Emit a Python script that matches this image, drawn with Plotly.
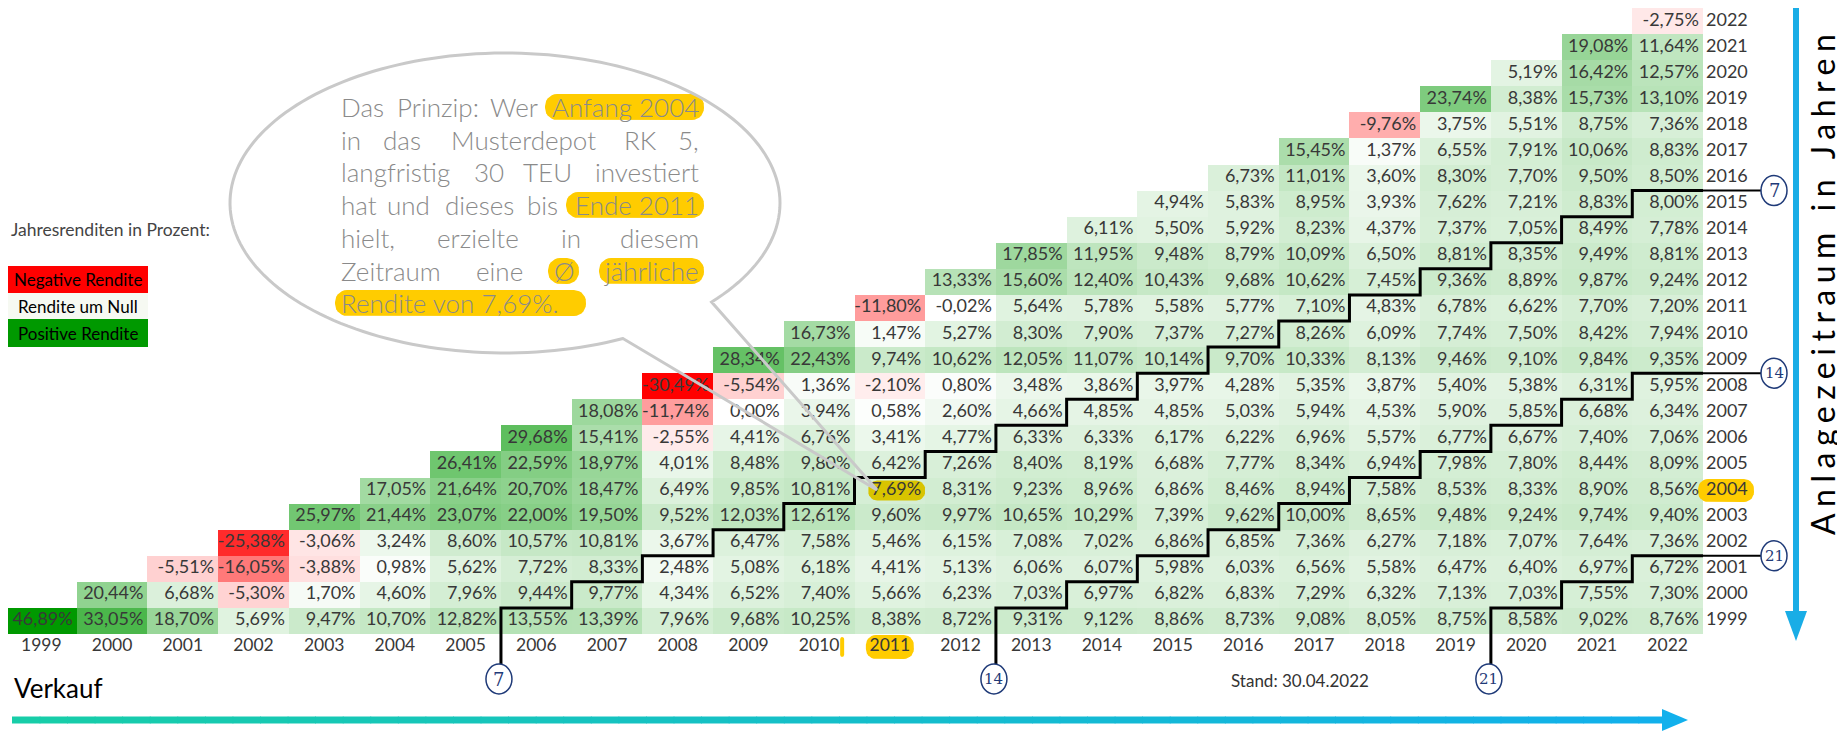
import numpy as np
import plotly.graph_objects as go

years = list(range(1999, 2023))
year_labels = [str(y) for y in years]

# Average annual return (%) for each start year (row); entries for sale years start..2022
start_1999 = [46.89, 33.05, 18.70, 5.69, 9.47, 10.70, 12.82, 13.55, 13.39, 7.96, 9.68, 10.25, 8.38, 8.72, 9.31, 9.12, 8.86, 8.73, 9.08, 8.05, 8.75, 8.58, 9.02, 8.76]
start_2000 = [20.44, 6.68, -5.30, 1.70, 4.60, 7.96, 9.44, 9.77, 4.34, 6.52, 7.40, 5.66, 6.23, 7.03, 6.97, 6.82, 6.83, 7.29, 6.32, 7.13, 7.03, 7.55, 7.30]
start_2001 = [-5.51, -16.05, -3.88, 0.98, 5.62, 7.72, 8.33, 2.48, 5.08, 6.18, 4.41, 5.13, 6.06, 6.07, 5.98, 6.03, 6.56, 5.58, 6.47, 6.40, 6.97, 6.72]
start_2002 = [-25.38, -3.06, 3.24, 8.60, 10.57, 10.81, 3.67, 6.47, 7.58, 5.46, 6.15, 7.08, 7.02, 6.86, 6.85, 7.36, 6.27, 7.18, 7.07, 7.64, 7.36]
start_2003 = [25.97, 21.44, 23.07, 22.00, 19.50, 9.52, 12.03, 12.61, 9.60, 9.97, 10.65, 10.29, 7.39, 9.62, 10.00, 8.65, 9.48, 9.24, 9.74, 9.40]
start_2004 = [17.05, 21.64, 20.70, 18.47, 6.49, 9.85, 10.81, 7.69, 8.31, 9.23, 8.96, 6.86, 8.46, 8.94, 7.58, 8.53, 8.33, 8.90, 8.56]
start_2005 = [26.41, 22.59, 18.97, 4.01, 8.48, 9.80, 6.42, 7.26, 8.40, 8.19, 6.68, 7.77, 8.34, 6.94, 7.98, 7.80, 8.44, 8.09]
start_2006 = [29.68, 15.41, -2.55, 4.41, 6.76, 3.41, 4.77, 6.33, 6.33, 6.17, 6.22, 6.96, 5.57, 6.77, 6.67, 7.40, 7.06]
start_2007 = [18.08, -11.74, 0.00, 3.94, 0.58, 2.60, 4.66, 4.85, 4.85, 5.03, 5.94, 4.53, 5.90, 5.85, 6.68, 6.34]
start_2008 = [-30.49, -5.54, 1.36, -2.10, 0.80, 3.48, 3.86, 3.97, 4.28, 5.35, 3.87, 5.40, 5.38, 6.31, 5.95]
start_2009 = [28.34, 22.43, 9.74, 10.62, 12.05, 11.07, 10.14, 9.70, 10.33, 8.13, 9.46, 9.10, 9.84, 9.35]
start_2010 = [16.73, 1.47, 5.27, 8.30, 7.90, 7.37, 7.27, 8.26, 6.09, 7.74, 7.50, 8.42, 7.94]
start_2011 = [-11.80, -0.02, 5.64, 5.78, 5.58, 5.77, 7.10, 4.83, 6.78, 6.62, 7.70, 7.20]
start_2012 = [13.33, 15.60, 12.40, 10.43, 9.68, 10.62, 7.45, 9.36, 8.89, 9.87, 9.24]
start_2013 = [17.85, 11.95, 9.48, 8.79, 10.09, 6.50, 8.81, 8.35, 9.49, 8.81]
start_2014 = [6.11, 5.50, 5.92, 8.23, 4.37, 7.37, 7.05, 8.49, 7.78]
start_2015 = [4.94, 5.83, 8.95, 3.93, 7.62, 7.21, 8.83, 8.00]
start_2016 = [6.73, 11.01, 3.60, 8.30, 7.70, 9.50, 8.50]
start_2017 = [15.45, 1.37, 6.55, 7.91, 10.06, 8.83]
start_2018 = [-9.76, 3.75, 5.51, 8.75, 7.36]
start_2019 = [23.74, 8.38, 15.73, 13.10]
start_2020 = [5.19, 16.42, 12.57]
start_2021 = [19.08, 11.64]
start_2022 = [-2.75]

rows = [start_1999, start_2000, start_2001, start_2002, start_2003, start_2004, start_2005,
        start_2006, start_2007, start_2008, start_2009, start_2010, start_2011, start_2012,
        start_2013, start_2014, start_2015, start_2016, start_2017, start_2018, start_2019,
        start_2020, start_2021, start_2022]

holding_marks = [7, 14, 21]
highlight_start, highlight_end = 2004, 2011

# ---------- geometry (screen pixels; page body has an 8px margin) ----------
OFF = 8
W, H = 1845 - OFF, 734 - OFF
GL, GR, GT, GB = 6, 1703, 8, 634
CW = (GR - GL) / 24.0
RH = (GB - GT) / 24.0

def X(px):
    return 1998.5 + (px - GL) / CW

def Y(py):
    return 2022.5 - (py - GT) / RH

def PX(x):
    return GL + (x - 1998.5) * CW

def PY(y):
    return GT + (2022.5 - y) * RH

# ---------- matrix ----------
n = len(years)
z = [[None] * n for _ in range(n)]
txt_x, txt_y, txt = [], [], []
for i, row in enumerate(rows):
    for j, v in enumerate(row):
        col = i + j
        z[i][col] = v
        txt_x.append(years[col] + 0.5 - 4 / CW)
        txt_y.append(years[i])
        txt.append(f"{v:.2f}".replace(".", ",") + "%")

allv = [v for r in rows for v in r]
zmin, zmax = min(allv), max(allv)
mid = (0 - zmin) / (zmax - zmin)
colorscale = [[0, "rgb(255,0,0)"], [mid, "rgb(255,255,255)"], [1, "rgb(0,153,0)"]]

fig = go.Figure()
fig.add_trace(go.Heatmap(x=years, y=years, z=z, colorscale=colorscale, zmin=zmin, zmax=zmax,
                         showscale=False, hoverinfo="skip", xgap=0, ygap=0))

def rr_points(x0, y0, x1, y1, r, nseg=8):
    pts = []
    corners = [(x1 - r, y0 + r, -90, 0), (x1 - r, y1 - r, 0, 90), (x0 + r, y1 - r, 90, 180), (x0 + r, y0 + r, 180, 270)]
    for cx, cy, a0, a1 in corners:
        for a in np.linspace(np.radians(a0), np.radians(a1), nseg):
            pts.append((cx + r * np.cos(a), cy + r * np.sin(a)))
    pts.append(pts[0])
    return [X(p[0]) for p in pts], [Y(p[1]) for p in pts]

def add_highlight(x0, y0, x1, y1, color, r=9):
    xs, ys = rr_points(x0, y0, x1, y1, r)
    fig.add_trace(go.Scatter(x=xs, y=ys, mode="lines", fill="toself", fillcolor=color,
                             line=dict(width=0, color=color), hoverinfo="skip", showlegend=False))

GOLD = "#ffcc00"
# highlighted cell 7.69% (start 2004, sale 2011)
cell_r = PX(highlight_end + 0.5)
cy_mid = PY(highlight_start)
add_highlight(cell_r - 57, cy_mid - 10, cell_r, cy_mid + 10, "#d8c400", r=9)
# highlighted x label 2011 and row label 2004
xl_py = GB + 13
add_highlight(PX(highlight_end) - 24, xl_py - 12, PX(highlight_end) + 24, xl_py + 12, GOLD, r=10)
add_highlight(1698, PY(highlight_start) - 11.5, 1754, PY(highlight_start) + 11.5, GOLD, r=10)
add_highlight(PX(2010) + 21, xl_py - 10, PX(2010) + 25, xl_py + 10, GOLD, r=2)

# balloon highlights
LINE_Y = [107, 139.5, 172, 205, 238, 271, 303]
add_highlight(545, LINE_Y[0] - 13, 704, LINE_Y[0] + 13, GOLD, r=12)
add_highlight(566, LINE_Y[3] - 13, 704, LINE_Y[3] + 13, GOLD, r=12)
add_highlight(548, LINE_Y[5] - 13, 579, LINE_Y[5] + 13, GOLD, r=12)
add_highlight(599, LINE_Y[5] - 13, 704, LINE_Y[5] + 13, GOLD, r=12)
add_highlight(335, LINE_Y[6] - 13, 586, LINE_Y[6] + 13, GOLD, r=12)

FONT = "Lato"
fig.add_trace(go.Scatter(x=txt_x, y=txt_y, text=txt, mode="text", textposition="middle left",
                         textfont=dict(family=FONT, size=18, color="#383838"),
                         hoverinfo="skip", showlegend=False))
# x labels (sale year)
fig.add_trace(go.Scatter(x=years, y=[Y(xl_py)] * n, text=year_labels, mode="text",
                         textposition="middle center",
                         textfont=dict(family=FONT, size=17.5, color="#383838"),
                         hoverinfo="skip", showlegend=False))
# row labels (start year)
fig.add_trace(go.Scatter(x=[X(1706)] * n, y=years, text=year_labels, mode="text",
                         textposition="middle right",
                         textfont=dict(family=FONT, size=18, color="#383838"),
                         hoverinfo="skip", showlegend=False))

shapes = []
annotations = []

# staircase lines for 7 / 14 / 21 years
NAVY = "#1f3a78"
circ_bottom_py = 679
circ_right_px = 1774
RX, RY = 13, 15
for k in holding_marks:
    pts = [(1998.5 + k, Y(circ_bottom_py - RY))]
    for r in range(1999, 2023 - k):
        pts.append((r - 0.5 + k, r + 0.5))
        pts.append((r + 0.5 + k, r + 0.5))
    path = "M " + " L ".join(f"{a:.5f},{b:.5f}" for a, b in pts)
    shapes.append(dict(type="path", path=path, xref="x", yref="y",
                       line=dict(color="black", width=3), layer="above"))
    ylast = 2022 - k + 0.5
    shapes.append(dict(type="line", xref="x", yref="y", x0=2022.5, x1=X(circ_right_px - RX),
                       y0=ylast, y1=ylast, line=dict(color="black", width=2), layer="above"))
    bx = PX(1998.5 + k) - 2
    for cx, cy in [(bx, circ_bottom_py), (circ_right_px, PY(ylast))]:
        shapes.append(dict(type="circle", xref="x", yref="y", x0=X(cx - RX), x1=X(cx + RX),
                           y0=Y(cy + RY), y1=Y(cy - RY), line=dict(color=NAVY, width=1.5),
                           fillcolor="white", layer="above"))
        annotations.append(dict(x=X(cx), y=Y(cy), xref="x", yref="y", text=str(k), showarrow=False,
                                font=dict(family="DejaVu Serif", size=18 if k < 10 else 15, color=NAVY),
                                xanchor="center", yanchor="middle"))

# speech balloon (ellipse with tail)
ecx, ecy, erx, ery = 505, 203, 275, 150
aL, aR = np.radians(64.6), np.radians(41.3)
tip = (877, 490)
angs = np.linspace(aL, aR + 2 * np.pi, 180)
bpts = [(ecx + erx * np.cos(a), ecy + ery * np.sin(a)) for a in angs] + [tip]
bpath = "M " + " L ".join(f"{X(a):.5f},{Y(b):.5f}" for a, b in bpts) + " Z"
shapes.append(dict(type="path", path=bpath, xref="x", yref="y",
                   line=dict(color="#c9c9c9", width=3), layer="above"))

# horizontal gradient arrow
c0 = np.array([24, 206, 168]); c1 = np.array([18, 176, 236])
hx0, hx1, hy = 12, 1666, 720
nseg = 60
for s in range(nseg):
    t0 = hx0 + (hx1 - hx0) * s / nseg
    t1 = hx0 + (hx1 - hx0) * (s + 1) / nseg + 0.8
    c = c0 + (c1 - c0) * (s + 0.5) / nseg
    shapes.append(dict(type="rect", xref="x", yref="y", x0=X(t0), x1=X(t1), y0=Y(hy + 3.5), y1=Y(hy - 3.5),
                       fillcolor=f"rgb({int(c[0])},{int(c[1])},{int(c[2])})", line=dict(width=0), layer="above"))
shapes.append(dict(type="path", xref="x", yref="y",
                   path=f"M {X(1662)},{Y(709)} L {X(1688)},{Y(720)} L {X(1662)},{Y(731)} Z",
                   fillcolor="rgb(18,176,236)", line=dict(width=0), layer="above"))

# vertical arrow
BLUE = "#19ade6"
shapes.append(dict(type="rect", xref="x", yref="y", x0=X(1793), x1=X(1799), y0=Y(615), y1=Y(OFF),
                   fillcolor=BLUE, line=dict(width=0), layer="above"))
shapes.append(dict(type="path", xref="x", yref="y",
                   path=f"M {X(1785)},{Y(611)} L {X(1807)},{Y(611)} L {X(1796)},{Y(641)} Z",
                   fillcolor=BLUE, line=dict(width=0), layer="above"))

# legend boxes
legend_items = [("Negative Rendite", "rgb(255,0,0)", 266, 293),
                ("Rendite um Null", "rgb(246,249,242)", 293, 319),
                ("Positive Rendite", "rgb(0,153,0)", 319, 347)]
for label, colr, y0, y1 in legend_items:
    shapes.append(dict(type="rect", xref="x", yref="y", x0=X(7), x1=X(148), y0=Y(y1), y1=Y(y0),
                       fillcolor=colr, line=dict(width=0), layer="above"))
    annotations.append(dict(x=X(77.5), y=Y((y0 + y1) / 2), xref="x", yref="y", text=label, showarrow=False,
                            font=dict(family=FONT, size=17, color="black"), xanchor="center", yanchor="middle"))

def ann(px, py, text, size, color, xanchor="left", weight=None, angle=0, family=FONT):
    f = dict(family=family, size=size, color=color)
    if weight:
        f["weight"] = weight
    annotations.append(dict(x=X(px), y=Y(py), xref="x", yref="y", text=text, showarrow=False,
                            font=f, xanchor=xanchor, yanchor="middle", textangle=angle))

ann(9, 229, "Jahresrenditen in Prozent:", 17.5, "#444444")
ann(12, 688, "Verkauf", 26, "black")
ann(1300, 680, "Stand: 30.04.2022", 17, "#333333", xanchor="center")
ann(1822, 282, '<span style="letter-spacing:6.5px">Anlagezeitraum in Jahren</span>', 32, "black",
    xanchor="center", angle=-90)

# balloon text, justified manually word by word
BT_SIZE, BT_COLOR = 26, "#8a8a8a"
balloon_words = [
    [("Das", 339, "left"), ("Prinzip:", 438, "center"), ("Wer", 514, "center"), ("Anfang 2004", 701, "right")],
    [("in", 339, "left"), ("das", 402, "center"), ("Musterdepot", 523, "center"), ("RK", 640, "center"), ("5,", 701, "right")],
    [("langfristig", 339, "left"), ("30", 489, "center"), ("TEU", 547, "center"), ("investiert", 701, "right")],
    [("hat", 339, "left"), ("und", 408, "center"), ("dieses", 479, "center"), ("bis", 542, "center"), ("Ende 2011", 701, "right")],
    [("hielt,", 339, "left"), ("erzielte", 478, "center"), ("in", 571, "center"), ("diesem", 701, "right")],
    [("Zeitraum", 339, "left"), ("eine", 499, "center"), ("Ø", 564, "center"), ("jährliche", 701, "right")],
    [("Rendite von 7,69%.", 339, "left")],
]
for li, words in enumerate(balloon_words):
    for w, px, anc in words:
        ann(px, LINE_Y[li], w, BT_SIZE, BT_COLOR, xanchor=anc, weight=300)

fig.update_layout(
    width=W, height=H, margin=dict(l=0, r=0, t=0, b=0),
    paper_bgcolor="white", plot_bgcolor="white",
    xaxis=dict(range=[X(OFF), X(OFF + W)], visible=False, fixedrange=True, domain=[0, 1]),
    yaxis=dict(range=[Y(OFF + H), Y(OFF)], visible=False, fixedrange=True, domain=[0, 1]),
    shapes=shapes, annotations=annotations, showlegend=False,
)
fig.write_html("out.html")
